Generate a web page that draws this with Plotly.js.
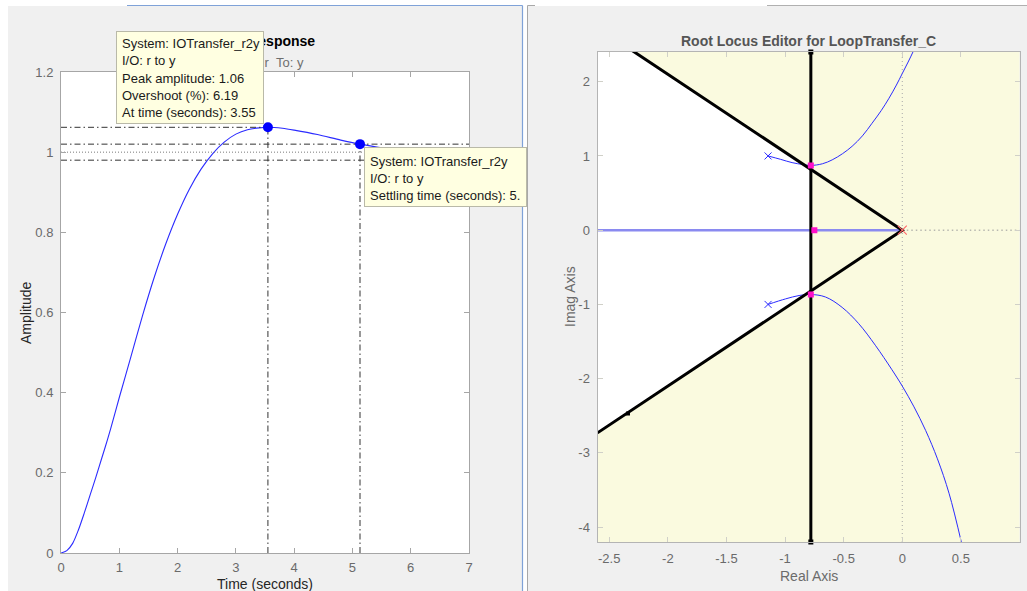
<!DOCTYPE html>
<html><head><meta charset="utf-8">
<script src="https://cdn.plot.ly/plotly-3.0.1.min.js"></script>
<style>html,body{margin:0;padding:0;background:#fff;overflow:hidden}#chart{width:1027px;height:591px}</style>
</head><body><div id="chart"></div>
<script>
// ---------- Step response (left) ----------
const stepTime = [0, 0.1, 0.2, 0.3, 0.4, 0.5, 0.6, 0.7, 0.8, 0.9, 1.0, 1.2, 1.4, 1.6, 1.8, 2.0, 2.2, 2.4, 2.6, 2.8, 3.0, 3.2, 3.4, 3.55, 3.8, 4.0, 4.4, 4.8, 5.13, 5.5, 6.0, 6.5, 7.0];
const stepAmp  = [0, 0.006, 0.024, 0.058, 0.1, 0.145, 0.19, 0.237, 0.284, 0.335, 0.388, 0.49, 0.593, 0.688, 0.772, 0.845, 0.907, 0.957, 0.996, 1.025, 1.045, 1.056, 1.0605, 1.062, 1.0595, 1.055, 1.044, 1.03, 1.02, 1.011, 1.003, 0.999, 0.997];
const peakTime = 3.55;
const peakAmp = 1.062;
const settleTime = 5.13;
const settleAmp = 1.02;
const finalValue = 1;
const settleBand = [0.98, 1.02];
const stepXTicks = [0, 1, 2, 3, 4, 5, 6, 7];
const stepYTicks = [0, 0.2, 0.4, 0.6, 0.8, 1, 1.2];
const peakLines = ['System: IOTransfer_r2y', 'I/O: r to y', 'Peak amplitude: 1.06', 'Overshoot (%): 6.19', 'At time (seconds): 3.55'];
const settleLines = ['System: IOTransfer_r2y', 'I/O: r to y', 'Settling time (seconds): 5.'];

// ---------- Root locus (right) ----------
const upperRe = [-1.145, -1.04, -0.94, -0.85, -0.78, -0.68, -0.598, -0.51, -0.428, -0.34, -0.258, -0.18, -0.116, -0.05, 0, 0.05, 0.1];
const upperIm = [1.0, 0.955, 0.91, 0.885, 0.872, 0.895, 0.947, 1.03, 1.13, 1.27, 1.44, 1.61, 1.77, 1.955, 2.11, 2.265, 2.43];
const lowerRe = [-1.145, -0.995, -0.88, -0.782, -0.655, -0.513, -0.371, -0.23, -0.088, 0, 0.1, 0.2, 0.3, 0.4, 0.508];
const lowerIm = [-1.0, -0.925, -0.88, -0.866, -0.9, -1.04, -1.26, -1.55, -1.88, -2.1, -2.38, -2.7, -3.08, -3.55, -4.23];
const olPoleRe = [-1.145, -1.145];
const olPoleIm = [1.0, -1.0];
const originPoleRe = [0];
const originPoleIm = [0];
const clPoleRe = [-0.78, -0.78, -0.75];
const clPoleIm = [0.872, -0.866, 0];
const settlingSigma = -0.78;
const dampingSlope = 1.05;
const handleRe = [-2.34];
const handleIm = [-2.47];
const rlXRange = [-2.6, 1];
const rlYRange = [-4.2, 2.4];
const rlXTicks = [-2.5, -2, -1.5, -1, -0.5, 0, 0.5];
const rlYTicks = [-4, -3, -2, -1, 0, 1, 2];

// ---------- layout helpers ----------
const W = 1027, H = 591;
const px = v => v / W;
const py = v => 1 - v / H;
const FONT = 'Arial, "Liberation Sans", Helvetica, sans-serif';
const dashDot = '6px,3px,1.5px,3px';

const traces = [];
// left plot traces
traces.push({x: stepTime, y: stepAmp, mode: 'lines', line: {color: '#2b2bff', width: 1.1, shape: 'spline', smoothing: 0.8}, xaxis: 'x', yaxis: 'y'});
traces.push({x: [0, 7], y: [finalValue, finalValue], mode: 'lines', line: {color: '#7a7a7a', width: 1, dash: '1px,2px'}, xaxis: 'x', yaxis: 'y'});
settleBand.forEach(b => traces.push({x: [0, 7], y: [b, b], mode: 'lines', line: {color: '#333', width: 1, dash: dashDot}, xaxis: 'x', yaxis: 'y'}));
traces.push({x: [0, peakTime], y: [peakAmp, peakAmp], mode: 'lines', line: {color: '#333', width: 1, dash: dashDot}, xaxis: 'x', yaxis: 'y'});
traces.push({x: [peakTime, peakTime], y: [0, peakAmp], mode: 'lines', line: {color: '#333', width: 1, dash: dashDot}, xaxis: 'x', yaxis: 'y'});
traces.push({x: [settleTime, settleTime], y: [0, settleAmp], mode: 'lines', line: {color: '#333', width: 1, dash: dashDot}, xaxis: 'x', yaxis: 'y'});
traces.push({x: [peakTime, settleTime], y: [peakAmp, settleAmp], mode: 'markers', marker: {color: '#0000ff', size: 10}, xaxis: 'x', yaxis: 'y'});

// right plot traces
const xL = rlXRange[0];
traces.push({x: [settlingSigma, xL, xL, settlingSigma], y: [-dampingSlope * settlingSigma, -dampingSlope * xL, dampingSlope * xL, dampingSlope * settlingSigma],
  mode: 'lines', fill: 'toself', fillcolor: '#ffffff', line: {width: 0, color: 'rgba(0,0,0,0)'}, xaxis: 'x2', yaxis: 'y2'});
traces.push({x: [0, 0], y: rlYRange, mode: 'lines', line: {color: '#a8a8a8', width: 1, dash: '1px,3px'}, xaxis: 'x2', yaxis: 'y2'});
traces.push({x: [0, rlXRange[1]], y: [0, 0], mode: 'lines', line: {color: '#b8b8b0', width: 1.5, dash: '1.5px,3px'}, xaxis: 'x2', yaxis: 'y2'});
traces.push({x: [xL, 0], y: [0, 0], mode: 'lines', line: {color: '#8a8af0', width: 2.5}, xaxis: 'x2', yaxis: 'y2'});
traces.push({x: upperRe, y: upperIm, mode: 'lines', line: {color: '#2b2bff', width: 1, shape: 'spline'}, xaxis: 'x2', yaxis: 'y2'});
traces.push({x: lowerRe, y: lowerIm, mode: 'lines', line: {color: '#2b2bff', width: 1, shape: 'spline'}, xaxis: 'x2', yaxis: 'y2'});
traces.push({x: [xL, 0, xL], y: [dampingSlope * xL, 0, -dampingSlope * xL], mode: 'lines', line: {color: '#000', width: 3}, xaxis: 'x2', yaxis: 'y2'});
traces.push({x: [settlingSigma, settlingSigma], y: rlYRange, mode: 'lines+markers', line: {color: '#000', width: 3}, marker: {symbol: 'square', size: 5, color: '#000'}, cliponaxis: false, xaxis: 'x2', yaxis: 'y2'});
traces.push({x: handleRe, y: handleIm, mode: 'markers', marker: {symbol: 'square', size: 4, color: '#000'}, xaxis: 'x2', yaxis: 'y2'});
traces.push({x: olPoleRe, y: olPoleIm, mode: 'markers', marker: {symbol: 'x-thin-open', size: 7, color: '#2b2bff', line: {color: '#2b2bff', width: 1}}, xaxis: 'x2', yaxis: 'y2'});
traces.push({x: originPoleRe, y: originPoleIm, mode: 'markers', marker: {symbol: 'x-thin-open', size: 9, color: '#ff6a6a', line: {color: '#ff6a6a', width: 1.2}}, xaxis: 'x2', yaxis: 'y2'});
traces.push({x: clPoleRe, y: clPoleIm, mode: 'markers', marker: {symbol: 'square', size: 6, color: '#ff10c8'}, xaxis: 'x2', yaxis: 'y2'});

// ---------- shapes (panels / backgrounds) ----------
const rect = (x0, y0, x1, y1, fill, line) => ({type: 'rect', xref: 'paper', yref: 'paper', x0: px(x0), x1: px(x1), y0: py(y1), y1: py(y0), fillcolor: fill, line: line || {width: 0}, layer: 'below'});
const seg = (x0, y0, x1, y1, color, w) => ({type: 'line', xref: 'paper', yref: 'paper', x0: px(x0), x1: px(x1), y0: py(y0), y1: py(y1), line: {color: color, width: w || 1}, layer: 'below'});
const shapes = [
  rect(8, 6, 522, 591, '#f0f0f0'),
  rect(527, 6, 1027, 591, '#f0f0f0'),
  seg(127, 5.5, 522.5, 5.5, '#7fa2d8', 1.2),
  seg(522.5, 5.5, 522.5, 591, '#7fa2d8', 1.2),
  seg(527.5, 5.5, 527.5, 591, '#a8a8a8', 1),
  seg(527.5, 5.5, 535, 5.5, '#a8a8a8', 1),
  seg(767, 5.5, 1027, 5.5, '#b0b0b0', 1),
  rect(61, 72, 469, 553, '#ffffff'),
  rect(597.5, 52, 1019.5, 542, '#fafadf')
];

// ---------- annotations ----------
const annotations = [];
const txt = (text, x, y, o) => annotations.push(Object.assign({text: text, xref: 'paper', yref: 'paper', x: px(x), y: py(y), showarrow: false, xanchor: 'center', yanchor: 'middle', borderpad: 0, font: {family: FONT, size: 13, color: '#262626'}}, o || {}));
txt('<b>Step Response</b>', 264.5, 41, {font: {family: FONT, size: 14, color: '#000'}});
txt('From: r\u00a0\u00a0To: y', 265, 62, {font: {family: FONT, size: 13, color: '#6e6e6e'}});
txt('<b>Root Locus Editor for LoopTransfer_C</b>', 808.5, 41, {font: {family: FONT, size: 14, color: '#555'}});
txt('Amplitude', 26, 313, {textangle: -90, font: {family: FONT, size: 14, color: '#262626'}});
txt('Time (seconds)', 265, 583.5, {font: {family: FONT, size: 14, color: '#262626'}});
txt('Imag Axis', 570, 297, {textangle: -90, font: {family: FONT, size: 14, color: '#6b6b6b'}});
txt('Real Axis', 808.5, 576, {font: {family: FONT, size: 14, color: '#6b6b6b'}});
// data tip boxes
const box = (x, y, w, h) => annotations.push({text: ' ', xref: 'paper', yref: 'paper', x: px(x), y: py(y), xanchor: 'left', yanchor: 'top', showarrow: false, width: w - 2, height: h - 2, borderpad: 0, borderwidth: 1, bordercolor: '#b9b9a8', bgcolor: '#ffffe1', font: {size: 1}});
box(115.5, 30.5, 147.5, 93);
peakLines.forEach((t, i) => txt(t, 120.5, 43.5 + i * 17.3, {xanchor: 'left', font: {family: FONT, size: 13, color: '#1a1a1a'}}));
box(363.5, 147, 163, 60);
settleLines.forEach((t, i) => txt(t, 369, 162 + i * 16.8, {xanchor: 'left', font: {family: FONT, size: 13, color: '#1a1a1a'}}));

const axBase = {showgrid: false, zeroline: false, showline: true, mirror: 'ticks', ticks: 'inside', ticklen: 5, tickwidth: 1, tickmode: 'array', tickfont: {family: FONT, size: 13, color: '#6a6a6a'}};
const layout = {
  width: W, height: H, margin: {l: 0, r: 0, t: 0, b: 0, pad: 0},
  paper_bgcolor: '#ffffff', plot_bgcolor: 'rgba(0,0,0,0)',
  showlegend: false, hovermode: false,
  xaxis: Object.assign({}, axBase, {domain: [px(61), px(469)], range: [0, 7], tickvals: stepXTicks, ticktext: stepXTicks.map(String), linecolor: '#a6a6a6', tickcolor: '#a6a6a6', anchor: 'y', ticklabelstandoff: 2}),
  yaxis: Object.assign({}, axBase, {domain: [py(553), py(72)], range: [0, 1.2], tickvals: stepYTicks, ticktext: stepYTicks.map(String), linecolor: '#a6a6a6', tickcolor: '#a6a6a6', anchor: 'x', ticklabelstandoff: 4}),
  xaxis2: Object.assign({}, axBase, {domain: [px(597.5), px(1019.5)], range: rlXRange, tickvals: rlXTicks, ticktext: rlXTicks.map(String), linecolor: '#b4b4b4', tickcolor: '#d0d0c8', anchor: 'y2', ticklabelstandoff: 4}),
  yaxis2: Object.assign({}, axBase, {domain: [py(542), py(52)], range: rlYRange, tickvals: rlYTicks, ticktext: rlYTicks.map(String), linecolor: '#b4b4b4', tickcolor: '#d0d0c8', anchor: 'x2', ticklabelstandoff: 4}),
  shapes: shapes,
  annotations: annotations
};
Plotly.newPlot('chart', traces, layout, {staticPlot: true, displayModeBar: false});
</script></body></html>
